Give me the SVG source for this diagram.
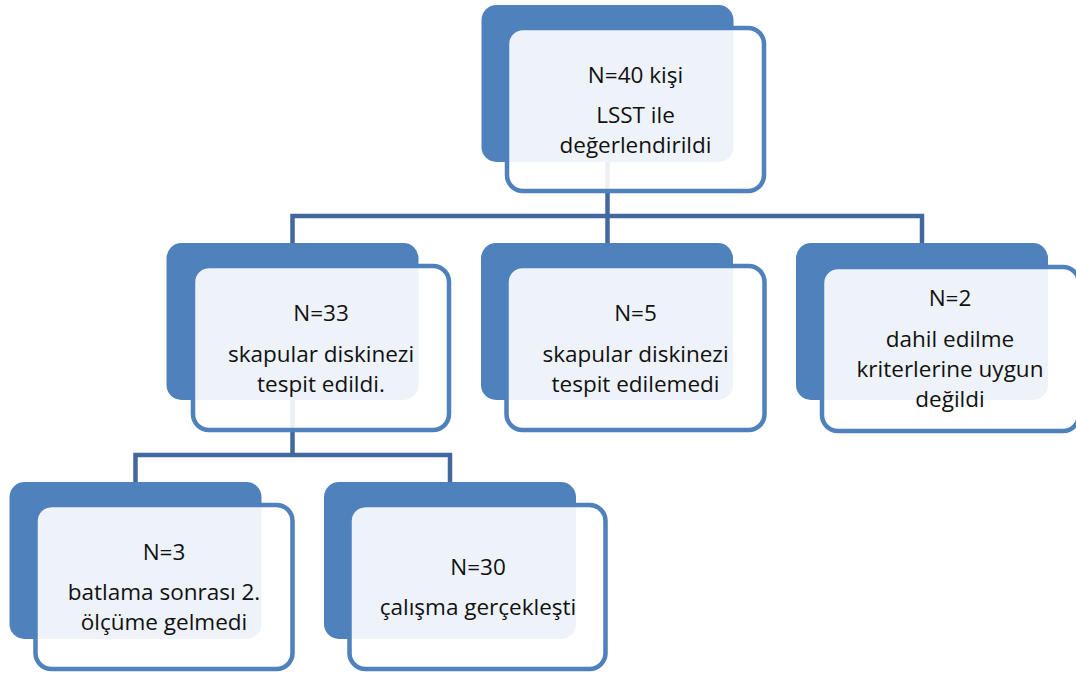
<svg xmlns="http://www.w3.org/2000/svg" width="1076" height="673" viewBox="0 0 1076 673">
<style>
.back{fill:#4F81BD;}
.front{fill:#FFFFFF;fill-opacity:0.9;stroke:#4F81BD;stroke-width:4.5;}
.conn{fill:none;stroke:#41699F;stroke-width:4.5;stroke-linejoin:miter;}
text{font-family:"Open Sans","Liberation Sans",sans-serif;font-size:22.5px;fill:#111;text-anchor:middle;}
</style>
<rect width="1076" height="673" fill="#FFFFFF"/>
<g id="connectors">
<path class="conn" d="M607.5,162 V216"/>
<path class="conn" d="M292.5,243 V216 H922 V243"/>
<path class="conn" d="M607.5,216 V243"/>
<path class="conn" d="M292.5,400 V455"/>
<path class="conn" d="M135.5,482 V455 H450 V482"/>
</g>
<g id="node-top">
<rect class="back" x="481.5" y="5" width="252" height="157" rx="15"/>
<rect class="front" x="507" y="28" width="257" height="163" rx="16"/>
<text x="635.5" y="83">N=40 kişi</text>
<text x="635.5" y="123">LSST ile</text>
<text x="635.5" y="153">değerlendirildi</text>
</g>
<g id="node-n33">
<rect class="back" x="166.5" y="243" width="252" height="157" rx="15"/>
<rect class="front" x="193" y="266" width="256" height="164" rx="16"/>
<text x="321" y="321">N=33</text>
<text x="321" y="362">skapular diskinezi</text>
<text x="321" y="392">tespit edildi.</text>
</g>
<g id="node-n5">
<rect class="back" x="481" y="243" width="252" height="157" rx="15"/>
<rect class="front" x="506.5" y="266" width="258" height="164" rx="16"/>
<text x="635.5" y="321">N=5</text>
<text x="635.5" y="362">skapular diskinezi</text>
<text x="635.5" y="392">tespit edilemedi</text>
</g>
<g id="node-n2">
<rect class="back" x="796" y="243" width="252" height="157" rx="15"/>
<rect class="front" x="822" y="267" width="257" height="164" rx="16"/>
<text x="950" y="306">N=2</text>
<text x="950" y="347">dahil edilme</text>
<text x="950" y="377">kriterlerine uygun</text>
<text x="950" y="407">değildi</text>
</g>
<g id="node-n3">
<rect class="back" x="9.5" y="482" width="252" height="157" rx="15"/>
<rect class="front" x="35.5" y="505" width="257" height="164" rx="16"/>
<text x="164" y="560">N=3</text>
<text x="164" y="600">batlama sonrası 2.</text>
<text x="164" y="630">ölçüme gelmedi</text>
</g>
<g id="node-n30">
<rect class="back" x="324" y="482" width="252" height="157" rx="15"/>
<rect class="front" x="349.5" y="505" width="256" height="164" rx="16"/>
<text x="478" y="574.5">N=30</text>
<text x="478" y="615">çalışma gerçekleşti</text>
</g>
</svg>
